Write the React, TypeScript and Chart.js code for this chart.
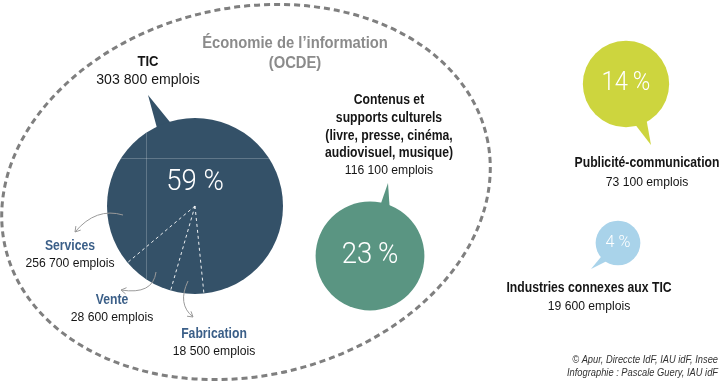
import React, { useEffect, useRef } from "react";
import { Chart, registerables } from "chart.js";

Chart.register(...registerables);

// ---- data ----
const categories = ["TIC", "Contenus et supports culturels", "Publicité-communication", "Industries connexes aux TIC"];
const emplois = [303800, 116100, 73100, 19600];
const shares = [59, 23, 14, 4];
const subCategories = ["Services", "Vente", "Fabrication"];
const subEmplois = [256700, 28600, 18500];
// bubble layout (infographic positions, in the hidden scales' units)
const posX = [195, 370, 626, 618];
const posY = [206, 256, 84, 243];

const colors = ["#345168", "#5a9582", "#cdd53e", "#a9d3ea"];
const titleLines = [["TIC"], ["Contenus et", "supports culturels", "(livre, presse, cinéma,", "audiovisuel, musique)"], ["Publicité-communication"], ["Industries connexes aux TIC"]];

const fmt = (n: number) => String(n).replace(/\B(?=(\d{3})+(?!\d))/g, " ") + " emplois";

const MAX_R = 88;
const radiusOf = (v: number) => MAX_R * Math.sqrt(v / Math.max(...emplois));

// decoration layout
const labelPos = [
  { x: 148, ys: [62], ye: 80, big: true },
  { x: 389, ys: [100, 118, 136, 153], ye: 170, big: false },
  { x: 647, ys: [163], ye: 182, big: false },
  { x: 589, ys: [288], ye: 306, big: false },
];
const tails = [
  { a1: -117, a2: -104, tip: [-47, -111] },
  { a1: -79, a2: -66, tip: [18, -73] },
  { a1: 79, a2: 59, tip: [25, 61] },
  { a1: 142, a2: 120, tip: [-27, 26] },
];
const pctFont = [29, 29, 25, 17];
const pctSep = [" ", "\u2009", "\u2009", " "];
const subLabelPos = [
  { x: 70, y: 246 },
  { x: 112, y: 300 },
  { x: 214, y: 334 },
];
const arrows = [
  { from: [123, 215], ctrl: [96, 207], to: [75, 232] },
  { from: [156, 272], ctrl: [153, 295], to: [121, 290] },
  { from: [188, 281], ctrl: [177, 304], to: [193, 317] },
];
const SECTOR_START = 140; // degrees, screen angle of Services|Vente boundary

function drawText(ctx: CanvasRenderingContext2D, text: string, x: number, y: number, font: string, color: string, sx = 1, align: CanvasTextAlign = "center") {
  ctx.save();
  ctx.font = font;
  ctx.fillStyle = color;
  ctx.textAlign = align;
  ctx.textBaseline = "middle";
  ctx.translate(x, y);
  ctx.scale(sx, 1);
  ctx.fillText(text, 0, 0);
  ctx.restore();
}

const SANS = '"Liberation Sans", Arial, sans-serif';

const decorPlugin = {
  id: "decor",
  beforeDatasetsDraw(chart: any) {
    const ctx: CanvasRenderingContext2D = chart.ctx;
    const xs = chart.scales.x, ys = chart.scales.y;
    // dashed ellipse (OCDE)
    ctx.save();
    ctx.strokeStyle = "#7f7f7f";
    ctx.lineWidth = 3;
    ctx.setLineDash([6, 4]);
    ctx.beginPath();
    ctx.ellipse(246, 192, 247, 184, (-12.8 * Math.PI) / 180, 0, Math.PI * 2);
    ctx.stroke();
    ctx.restore();
    // tails
    emplois.forEach((v, i) => {
      const cx = xs.getPixelForValue(posX[i]);
      const cy = ys.getPixelForValue(posY[i]);
      const r = radiusOf(v) * 0.9;
      const t = tails[i];
      const a1 = (t.a1 * Math.PI) / 180, a2 = (t.a2 * Math.PI) / 180;
      ctx.save();
      ctx.fillStyle = colors[i];
      ctx.beginPath();
      ctx.moveTo(cx + r * Math.cos(a1), cy + r * Math.sin(a1));
      ctx.lineTo(cx + t.tip[0], cy + t.tip[1]);
      ctx.lineTo(cx + r * Math.cos(a2), cy + r * Math.sin(a2));
      ctx.closePath();
      ctx.fill();
      ctx.restore();
    });
  },
  afterDatasetsDraw(chart: any) {
    const ctx: CanvasRenderingContext2D = chart.ctx;
    const xs = chart.scales.x, ys = chart.scales.y;
    const cx0 = xs.getPixelForValue(posX[0]);
    const cy0 = ys.getPixelForValue(posY[0]);
    const r0 = radiusOf(emplois[0]);
    // faint guide lines inside TIC bubble
    ctx.save();
    ctx.beginPath();
    ctx.arc(cx0, cy0, r0, 0, Math.PI * 2);
    ctx.clip();
    ctx.strokeStyle = "rgba(255,255,255,0.22)";
    ctx.lineWidth = 1;
    ctx.beginPath();
    ctx.moveTo(146.5, 0); ctx.lineTo(146.5, 381);
    ctx.moveTo(0, 158.5); ctx.lineTo(270, 158.5);
    ctx.stroke();
    ctx.restore();
    // sector boundaries (Services / Vente / Fabrication)
    const total = subEmplois.reduce((a, b) => a + b, 0);
    let ang = SECTOR_START;
    const bounds = [ang];
    for (let k = 1; k < subEmplois.length; k++) {
      ang -= (subEmplois[k] / total) * 360;
      bounds.push(ang);
    }
    ctx.save();
    ctx.strokeStyle = "rgba(255,255,255,0.9)";
    ctx.lineWidth = 1;
    ctx.setLineDash([3, 3]);
    bounds.forEach((a) => {
      const rad = (a * Math.PI) / 180;
      ctx.beginPath();
      ctx.moveTo(cx0, cy0);
      ctx.lineTo(cx0 + r0 * Math.cos(rad), cy0 + r0 * Math.sin(rad));
      ctx.stroke();
    });
    ctx.restore();
    // percentages
    shares.forEach((s, i) => {
      const cx = xs.getPixelForValue(posX[i]);
      const cy = ys.getPixelForValue(posY[i]);
      const dy = i === 0 ? -23 : 0;
      drawText(ctx, `${s}${pctSep[i]}%`, cx, cy + dy, `300 ${pctFont[i]}px Roboto, ${SANS}`, "#ffffff", 0.95);
    });
    // title
    drawText(ctx, "Économie de l’information", 295, 43, `bold 17px ${SANS}`, "#8b8b8b", 0.87);
    drawText(ctx, "(OCDE)", 295, 63, `bold 17px ${SANS}`, "#8b8b8b", 0.87);
    // category labels
    categories.forEach((_, i) => {
      const lp = labelPos[i];
      const bs = lp.big ? 15 : 14;
      const rs = lp.big ? 15 : 13.5;
      titleLines[i].forEach((line, k) => drawText(ctx, line, lp.x, lp.ys[k], `bold ${bs}px ${SANS}`, "#151515", 0.87));
      drawText(ctx, fmt(emplois[i]), lp.x, lp.ye, `${rs}px ${SANS}`, "#151515", lp.big ? 0.94 : 0.9);
    });
    // sub labels
    subCategories.forEach((name, k) => {
      const p = subLabelPos[k];
      drawText(ctx, name, p.x, p.y, `bold 14px ${SANS}`, "#3b5f88", 0.87);
      drawText(ctx, fmt(subEmplois[k]), p.x, p.y + 17, `13.5px ${SANS}`, "#151515", 0.9);
    });
    // arrows
    ctx.save();
    ctx.strokeStyle = "#9a9a9a";
    ctx.lineWidth = 1;
    arrows.forEach((a) => {
      ctx.beginPath();
      ctx.moveTo(a.from[0], a.from[1]);
      ctx.quadraticCurveTo(a.ctrl[0], a.ctrl[1], a.to[0], a.to[1]);
      ctx.stroke();
      const dir = Math.atan2(a.to[1] - a.ctrl[1], a.to[0] - a.ctrl[0]);
      const L = 6, w = 0.55;
      ctx.beginPath();
      ctx.moveTo(a.to[0] - L * Math.cos(dir - w), a.to[1] - L * Math.sin(dir - w));
      ctx.lineTo(a.to[0], a.to[1]);
      ctx.lineTo(a.to[0] - L * Math.cos(dir + w), a.to[1] - L * Math.sin(dir + w));
      ctx.stroke();
    });
    ctx.restore();
    // credits
    drawText(ctx, "© Apur, Direccte IdF, IAU idF, Insee", 718, 360, `italic 11.5px ${SANS}`, "#333333", 0.81, "right");
    drawText(ctx, "Infographie : Pascale Guery, IAU idF", 718, 373, `italic 11.5px ${SANS}`, "#333333", 0.81, "right");
  },
};

export default function App() {
  const ref = useRef<HTMLCanvasElement>(null);
  useEffect(() => {
    document.body.style.margin = "0";
    const chart = new Chart(ref.current!, {
      type: "bubble",
      data: {
        datasets: [
          {
            data: emplois.map((v, i) => ({ x: posX[i], y: posY[i], r: radiusOf(v) })),
            backgroundColor: colors,
            borderWidth: 0,
            hoverRadius: 0,
            clip: false,
          },
        ],
      },
      options: {
        animation: false,
        responsive: false,
        events: [],
        layout: { padding: 0, autoPadding: false },
        plugins: { legend: { display: false }, tooltip: { enabled: false } },
        scales: {
          x: { type: "linear", min: 0, max: 720, display: false },
          y: { type: "linear", min: 0, max: 381, reverse: true, display: false },
        },
      },
      plugins: [decorPlugin],
    });
    return () => chart.destroy();
  }, []);
  return (
    <div style={{ position: "fixed", left: 0, top: 0, width: 720, height: 381, background: "#fff" }}>
      <canvas ref={ref} width={720} height={381} />
    </div>
  );
}
